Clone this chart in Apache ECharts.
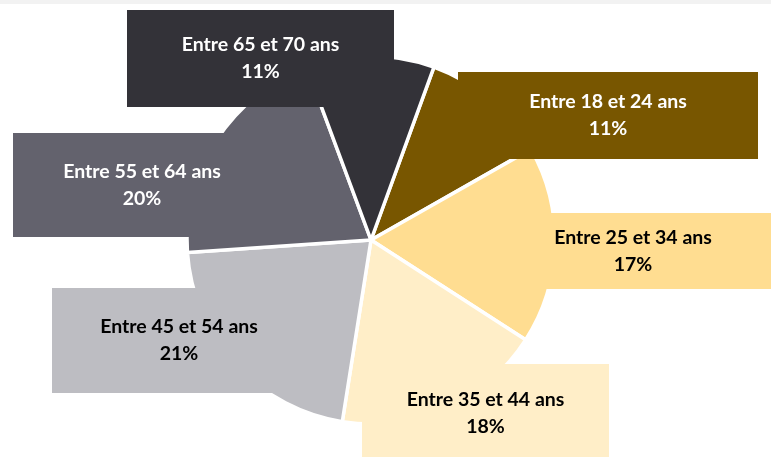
<!DOCTYPE html>
<html>
<head>
<meta charset="utf-8">
<script src="https://cdn.jsdelivr.net/npm/echarts@6/dist/echarts.min.js"></script>
<style>
  html, body { margin: 0; padding: 0; background: #ffffff; }
  #chart { width: 771px; height: 457px; }
</style>
</head>
<body>
<div id="chart"></div>
<script>
// ---- data ----
var categories = ['Entre 18 et 24 ans', 'Entre 25 et 34 ans', 'Entre 35 et 44 ans',
                  'Entre 45 et 54 ans', 'Entre 55 et 64 ans', 'Entre 65 et 70 ans'];
var shares = [11, 17, 18, 21, 20, 11];

// ---- styling ----
var sliceColors = ['#785600', '#FFDD91', '#FFEEC8', '#BDBDC2', '#63626D', '#333238'];
var textColors  = ['#ffffff', '#000000', '#000000', '#000000', '#ffffff', '#ffffff'];
// label box centres and sizes (layout only)
var boxCenters = [[608, 115.5], [633, 251], [485.5, 413], [179, 340.5], [142, 185], [260.5, 58.5]];
var boxSizes   = [[300, 87], [300, 76], [247, 98], [254, 105], [258, 104], [267, 97]];
var LINE_H = 27;

var chart = echarts.init(document.getElementById('chart'), null, { renderer: 'canvas' });

var data = categories.map(function (name, i) {
  var vpad = (boxSizes[i][1] - 2 * LINE_H) / 2;
  return {
    name: name,
    value: shares[i],
    itemStyle: { color: sliceColors[i] },
    label: {
      color: textColors[i],
      backgroundColor: sliceColors[i],
      width: boxSizes[i][0],
      padding: [vpad, 0, vpad, 0]
    }
  };
});

chart.setOption({
  animation: false,
  backgroundColor: '#ffffff',
  graphic: [{
    type: 'rect', left: 0, top: 0, z: 100,
    shape: { width: 771, height: 4 },
    style: { fill: '#F2F2F2' }
  }],
  series: [{
    type: 'pie',
    center: [371, 240],
    radius: [0, 184],
    startAngle: 70,
    clockwise: true,
    avoidLabelOverlap: false,
    silent: true,
    itemStyle: { borderColor: '#ffffff', borderWidth: 3.5 },
    label: {
      show: true,
      position: 'outside',
      formatter: '{b}\n{c}%',
      fontFamily: 'Lato',
      fontWeight: 'bold',
      fontSize: 19.5,
      lineHeight: LINE_H,
      align: 'center'
    },
    labelLine: { show: false },
    labelLayout: function (params) {
      var i = params.dataIndex;
      return {
        x: boxCenters[i][0],
        y: boxCenters[i][1],
        align: 'center',
        verticalAlign: 'middle'
      };
    },
    emphasis: { disabled: true },
    data: data
  }]
});
</script>
</body>
</html>
